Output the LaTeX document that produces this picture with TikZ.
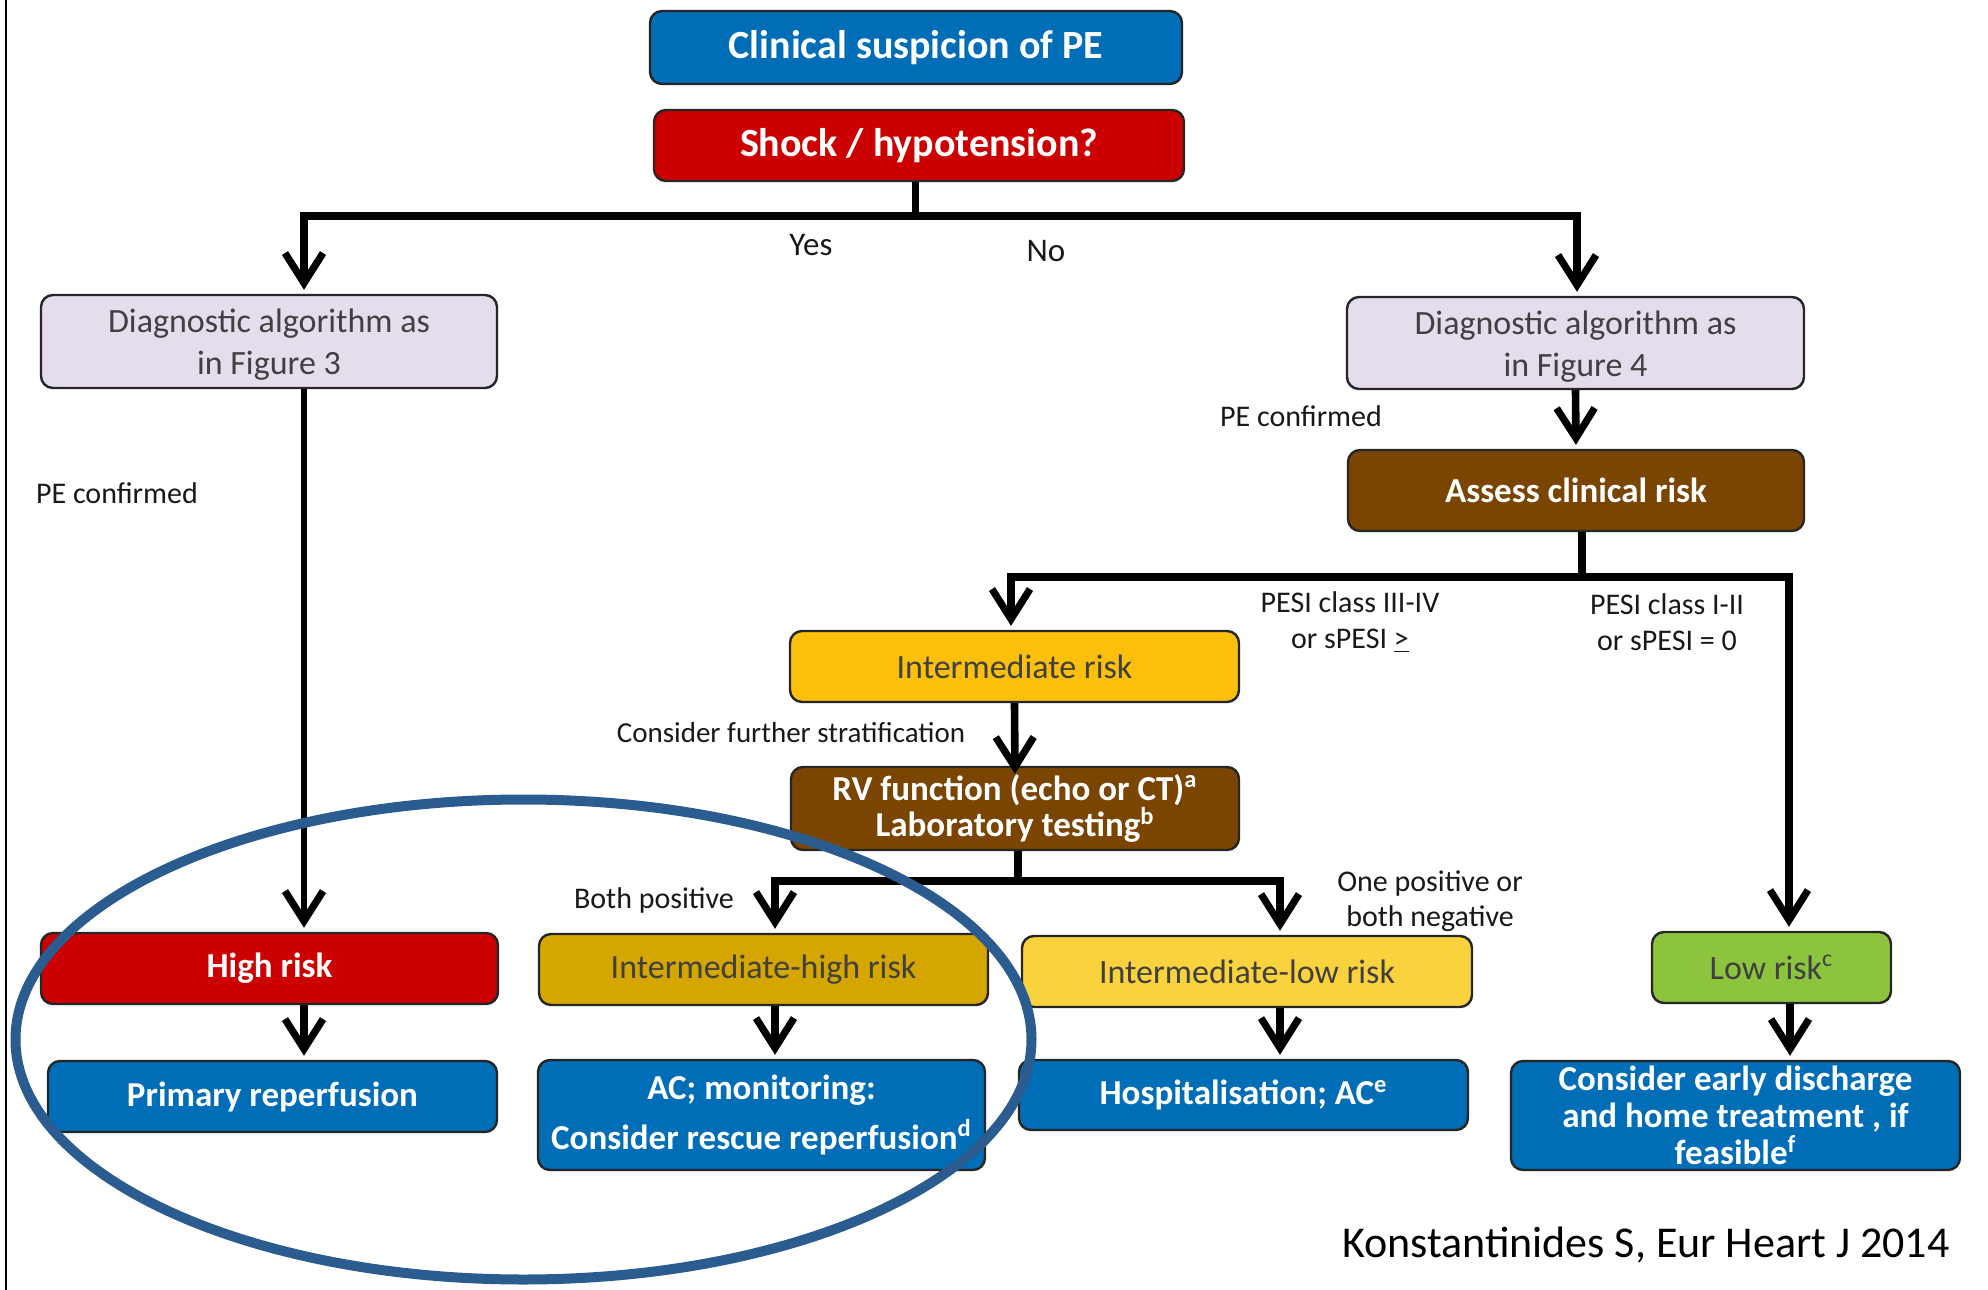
\documentclass[tikz,border=0pt]{standalone}
\usepackage{fontspec}
\setmainfont{Carlito}
\usetikzlibrary{arrows.meta}
\definecolor{pblue}{HTML}{006EB6}
\definecolor{pred}{HTML}{CC0000}
\definecolor{plav}{HTML}{E5DCEC}
\definecolor{pbrown}{HTML}{7A4500}
\definecolor{pyel}{HTML}{FBBF0C}
\definecolor{pgold}{HTML}{D5A500}
\definecolor{plyel}{HTML}{FAD23E}
\definecolor{pgreen}{HTML}{8CC43E}
\definecolor{pring}{HTML}{2B5C8F}
\definecolor{ptext}{HTML}{404040}
\tikzset{
  box/.style={draw=black!85, line width=1.2pt, rounded corners=6pt, align=center, inner sep=0pt},
  darkbox/.style={box, text=white, font=\bfseries\fontsize{17.5}{21}\selectfont},
  lightbox/.style={box, text=ptext, font=\fontsize{17}{21}\selectfont},
  lbl/.style={font=\fontsize{15}{18}\selectfont, text=black!90, align=center, inner sep=0pt},
  barline/.style={line width=4.5pt},
  stemline/.style={line width=3.8pt},
  arr/.style={line width=3.8pt, shorten >=2pt, -{Straight Barb[length=15pt,width=19pt,line width=3.6pt]}},
  thinarr/.style={line width=2.6pt, shorten >=2pt, -{Straight Barb[length=15pt,width=19pt,line width=3.6pt]}},
}
\begin{document}
\begin{tikzpicture}[x=0.5pt,y=-0.5pt]
\useasboundingbox (0,0) rectangle (1988,1290);
\fill[white] (0,0) rectangle (1988,1290);
\draw[line width=1pt] (6,0) -- (6,1290);

% boxes
\node[darkbox, fill=pblue, minimum width=266pt, minimum height=36.5pt, font=\bfseries\fontsize{20}{24}\selectfont] (clin) at (916,47.5) {Clinical suspicion of PE};
\node[darkbox, fill=pred, minimum width=265pt, minimum height=35.5pt, font=\bfseries\fontsize{20}{24}\selectfont] (shock) at (919,145.5) {Shock / hypotension?};
\node[lightbox, fill=plav, minimum width=228pt, minimum height=46.5pt] (diagL) at (269,341.5) {\rule{0pt}{15pt}Diagnostic algorithm as\\in Figure 3};
\node[lightbox, fill=plav, minimum width=228.5pt, minimum height=46pt] (diagR) at (1575.5,343) {\rule{0pt}{15pt}Diagnostic algorithm as\\in Figure 4};
\node[darkbox, fill=pbrown, minimum width=228pt, minimum height=40.5pt] (assess) at (1576,490.5) {Assess clinical risk};
\node[lightbox, fill=pyel, minimum width=224.5pt, minimum height=35.5pt] (inter) at (1014.5,666.5) {Intermediate risk};
\node[darkbox, fill=pbrown, minimum width=224pt, minimum height=41.5pt, font=\bfseries\fontsize{17.5}{18.3}\selectfont] (rv) at (1015,808.5) {RV function (echo or CT)\textsuperscript{a}\\Laboratory testing\textsuperscript{b}};
\node[darkbox, fill=pred, minimum width=228.5pt, minimum height=35.5pt] (high) at (269.5,968.5) {High risk};
\node[lightbox, fill=pgold, minimum width=224.5pt, minimum height=35.5pt] (ihigh) at (763.5,969.5) {Intermediate-high risk};
\node[lightbox, fill=plyel, minimum width=225pt, minimum height=35.5pt] (ilow) at (1247,971.5) {Intermediate-low risk};
\node[lightbox, fill=pgreen, minimum width=119.5pt, minimum height=35.5pt] (low) at (1771.5,967.5) {Low risk\textsuperscript{c}};
\node[darkbox, fill=pblue, minimum width=224.5pt, minimum height=35.5pt] (prim) at (272.5,1096.5) {Primary reperfusion};
\node[darkbox, fill=pblue, minimum width=223.5pt, minimum height=55pt, font=\bfseries\fontsize{17.5}{24.7}\selectfont] (acmon) at (761.5,1115) {AC; monitoring:\\Consider rescue reperfusion\textsuperscript{d}};
\node[darkbox, fill=pblue, minimum width=224.5pt, minimum height=35pt] (hosp) at (1243.5,1095) {Hospitalisation; AC\textsuperscript{e}};
\node[darkbox, fill=pblue, minimum width=224.5pt, minimum height=54.5pt, font=\bfseries\fontsize{17.5}{18.5}\selectfont] (disch) at (1735.5,1115.5) {Consider early discharge\\and home treatment , if\\feasible\textsuperscript{f}};

% junction coordinates
\coordinate (j1) at (915.5,216);
\coordinate (xL) at (304,0);
\coordinate (xR) at (1577,0);
\coordinate (j2) at (1582,577);
\coordinate (xI) at (1011,0);
\coordinate (xLow) at (1789,0);
\coordinate (j3) at (1018,881);
\coordinate (xIH) at (775,0);
\coordinate (xIL) at (1280,0);
\coordinate (xLow2) at (1790,0);

% connectors
\draw[stemline] (shock.south -| j1) -- (j1);
\draw[arr] (j1) -| (diagL.north -| xL);
\draw[arr] (j1) -| (diagR.north -| xR);
\draw[arr] (diagR.south) -- (assess.north);
\draw[stemline] (assess.south -| j2) -- (j2);
\draw[arr] (j2) -| (inter.north -| xI);
\draw[arr] (j2) -| (low.north -| xLow);
\draw[arr] (inter.south) -- ([yshift=-6pt]rv.north);
\draw[stemline] (rv.south -| j3) -- (j3);
\draw[arr] (j3) -| (ihigh.north -| xIH);
\draw[arr] (j3) -| (ilow.north -| xIL);
\draw[thinarr] (diagL.south -| xL) -- (high.north -| xL);
\draw[arr] (high.south -| xL) -- (prim.north -| xL);
\draw[arr] (ihigh.south -| xIH) -- (acmon.north -| xIH);
\draw[arr] (ilow.south -| xIL) -- (hosp.north -| xIL);
\draw[arr] (low.south -| xLow2) -- (disch.north -| xLow2);

% labels
\node[lbl, font=\fontsize{16.5}{19}\selectfont] (yes) at (811,245) {Yes};
\node[lbl, font=\fontsize{16.5}{19}\selectfont] (no) at (1046,251) {No};
\node[lbl] (pecR) at (1301,416) {PE confirmed};
\node[lbl] (pecL) at (117,493) {PE confirmed};
\node[lbl] (pesi34) at (1350,622) {PESI class III-IV\\or sPESI \underline{>}};
\node[lbl] (pesi12) at (1667,622) {PESI class I-II\\or sPESI = 0};
\node[lbl, font=\fontsize{14.5}{18}\selectfont] (cfs) at (791,733) {Consider further stratification};
\node[lbl] (bothpos) at (654,900) {Both positive};
\node[lbl, font=\fontsize{15}{17.5}\selectfont] (onepos) at (1430,901.5) {One positive or\\both negative};
\node[lbl, anchor=east, font=\fontsize{22}{26}\selectfont, text=black] (cite) at (1950,1245) {Konstantinides S, Eur Heart J 2014};

% highlight ellipse
\draw[pring, line width=5pt] (523.5,1039.5) ellipse [x radius=508, y radius=240];
\end{tikzpicture}
\end{document}
